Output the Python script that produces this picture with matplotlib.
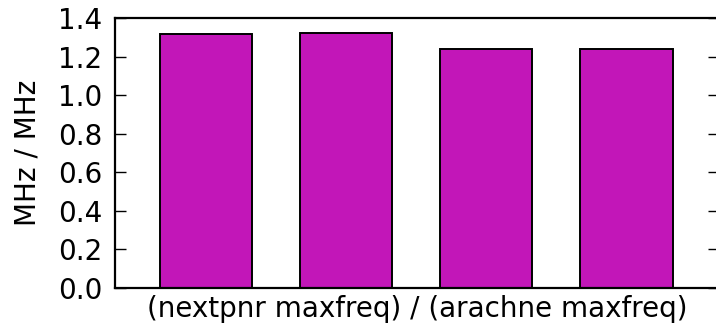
import matplotlib
matplotlib.use("Agg")
import matplotlib.pyplot as plt
import numpy as np

# maxfreq ratio per design, nextpnr over arachne
ratios = [1.317, 1.324, 1.238, 1.238]
ylabel = "MHz / MHz"
xlabel = "(nextpnr maxfreq) / (arachne maxfreq)"

plt.rcParams.update({"font.family": "DejaVu Sans", "font.size": 20})

fig = plt.figure(figsize=(7.16, 3.32), dpi=100)
ax = fig.add_axes([115 / 716, 44 / 332, 604 / 716, 270 / 332])

x = np.arange(len(ratios))
ax.bar(x, ratios, width=0.657, color="#c216b8", edgecolor="black",
       linewidth=1.4)

ax.set_xlim(-0.65, 3.66)
ax.set_ylim(0, 1.4)
ax.set_yticks(np.arange(0, 1.41, 0.2))
ax.set_xticks([])
ax.yaxis.set_ticks_position("both")
ax.tick_params(axis="y", direction="in", length=8, width=1.0, pad=9)
for spine in ax.spines.values():
    spine.set_linewidth(1.6)

ax.set_ylabel(ylabel, labelpad=12)
ax.set_xlabel(xlabel, labelpad=5)

fig.savefig("out.png", dpi=100)
